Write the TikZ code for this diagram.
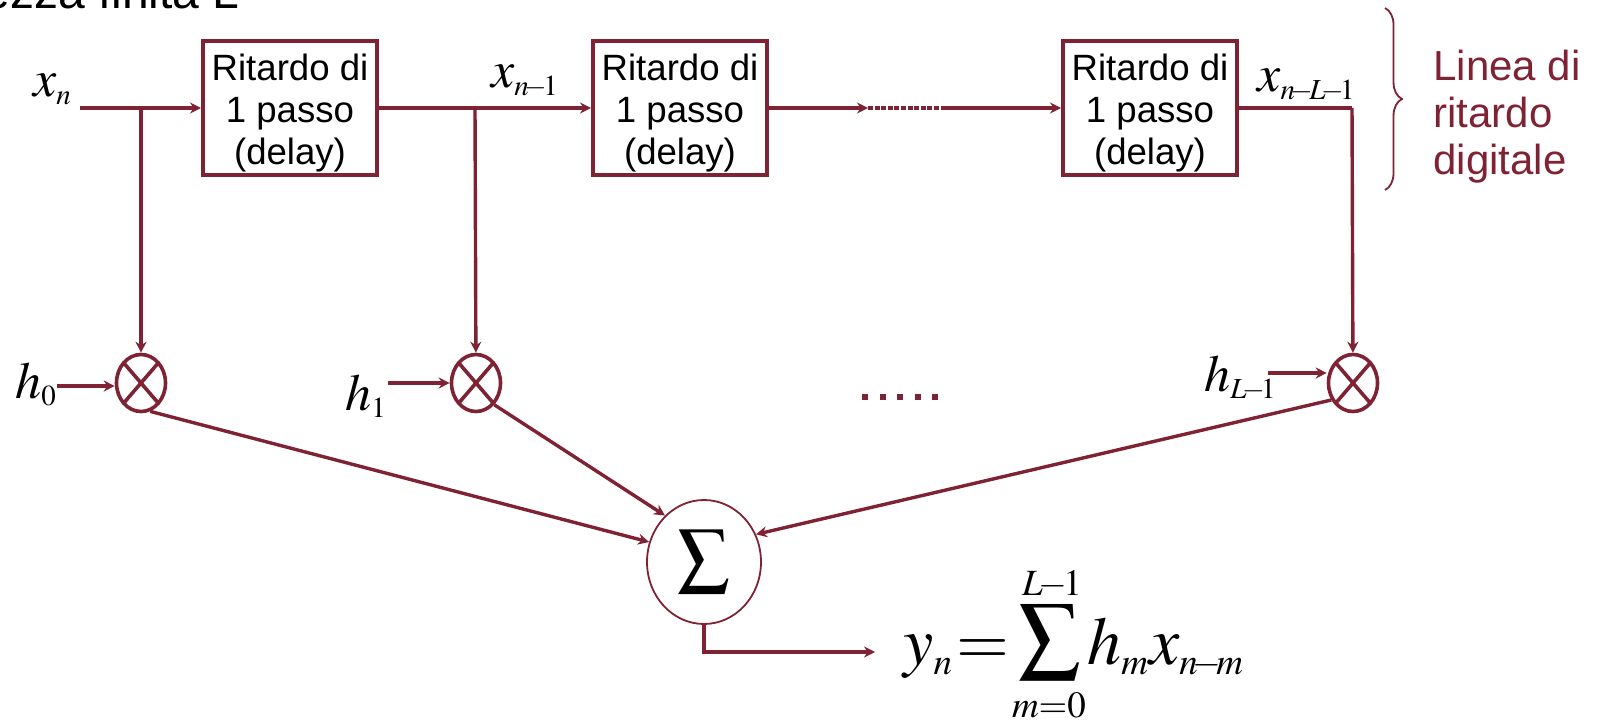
\documentclass[tikz,border=0pt]{standalone}
\usepackage{mathptmx}
\usepackage[no-math]{fontspec}
\setmainfont{Liberation Sans}
\usepackage{amsmath}
\usetikzlibrary{arrows.meta,shapes.geometric,decorations.pathreplacing}
\definecolor{wire}{HTML}{7F2233}
\DeclareMathSizes{26}{26}{14.5}{11}
\DeclareMathSizes{34}{34}{18.5}{13}
\newcommand{\mns}{\mkern-2.5mu-\mkern-2.5mu}
\newcommand{\delaytext}{\rule{0pt}{18.5pt}Ritardo di\\1 passo\\(delay)}
\begin{document}
\begin{tikzpicture}[
    x=0.5pt, y=-0.5pt,
    >={Stealth[length=5.5pt,width=5.5pt]},
    delaybox/.style={draw=wire, line width=2pt, minimum width=87pt, minimum height=67pt, inner sep=0pt, align=center, font=\fontsize{18.3}{21}\selectfont},
    mult/.style={ellipse, draw=wire, line width=1.8pt, minimum width=24.5pt, minimum height=28.5pt, inner sep=0pt,
        path picture={\draw[wire, line width=1.8pt] (path picture bounding box.north west) -- (path picture bounding box.south east)
            (path picture bounding box.north east) -- (path picture bounding box.south west);}},
    wireline/.style={wire, line width=1.7pt},
    wirearrow/.style={->, wire, line width=1.7pt},
    symb/.style={inner sep=0pt, anchor=base west, font=\fontsize{26}{30}\selectfont},
    bigsymb/.style={inner sep=0pt, anchor=base west, font=\fontsize{34}{38}\selectfont},
    limit/.style={inner sep=0pt, anchor=base, font=\fontsize{18.5}{20}\selectfont}
]
    \clip (0,0) rectangle (1599,721);

    % title, cut off by the page
    \node[inner sep=0pt, anchor=base east, font=\fontsize{24}{28}\selectfont] (title) at (240,9) {ezza finita L};

    % delay line
    \node[delaybox] (delay1) at (290,108) {\delaytext};
    \node[delaybox] (delay2) at (680,108) {\delaytext};
    \node[delaybox] (delay3) at (1150,108) {\delaytext};

    \node[symb] (xn) at (33,97) {$x_n$};
    \node[symb] (xn1) at (491,88) {$x_{n\mns1}$};
    \node[symb] (xnL) at (1257,92) {$x_{n\mns L\mns1}$};

    \coordinate (xin) at (80,108);
    \coordinate (tap0) at (141,108);
    \coordinate (tap1) at (475,108);
    \coordinate (tap2) at (1352,108);
    \coordinate (dotsL) at (868,108);
    \coordinate (dotsR) at (945,108);

    \draw[wirearrow] (xin) -- (delay1);
    \draw[wirearrow] (delay1) -- (delay2);
    \draw[wirearrow] (delay2) -- (dotsL);
    \draw[wireline, dash pattern=on 2.5pt off 0.8pt] (dotsL) -- (dotsR);
    \draw[wirearrow] (dotsR) -- (delay3);
    \draw[wireline] (delay3) -- (tap2);

    % brace
    \draw[wire, line width=0.9pt, decorate, decoration={brace, amplitude=8.5pt}] (1385,8) -- (1385,190) coordinate (braceEnd);
    \node[inner sep=0pt, anchor=north west, align=left, text=wire, font=\fontsize{21}{23.5}\selectfont] (linea) at (1433,50) {Linea di\\ritardo\\digitale};

    % multipliers
    \node[mult] (m0) at (141,383) {};
    \node[mult] (m1) at (476,383) {};
    \node[mult] (m2) at (1353,383) {};

    \draw[wirearrow] (tap0) -- (m0);
    \draw[wirearrow] (tap1) -- (m1);
    \draw[wirearrow] (tap2) -- (m2);

    \node[symb] (h0) at (15,398) {$h_0$};
    \node[symb] (h1) at (345,410) {$h_1$};
    \node[symb] (hL) at (1204,391) {$h_{L\mns1}$};

    \coordinate (h0in) at (57,386);
    \coordinate (h1in) at (388,383);
    \coordinate (hLin) at (1268,373);
    \draw[wirearrow] (h0in) -- (h0in -| m0.west);
    \draw[wirearrow] (h1in) -- (h1in -| m1.west);
    \draw[wirearrow] (hLin) -- (hLin -| m2.west);

    \foreach \k in {0,...,4}
        \fill[wire] (862+17.5*\k,394) rectangle (868+17.5*\k,400);

    % adder
    \node[ellipse, draw=wire, line width=0.9pt, minimum width=57pt, minimum height=62pt, inner sep=0pt, font=\fontsize{37}{42}\selectfont] (adder) at (704,562) {$\textstyle\sum$};

    \draw[wirearrow] (m0.-72) -- (adder.160);
    \draw[wirearrow] (m1.-50) -- (adder.130);
    \draw[wirearrow] (m2.218) -- (adder.28);

    \coordinate (outEnd) at (875,652);
    \draw[wirearrow] (adder.south) |- (outEnd);

    % output formula
    \node[bigsymb] (eqnL) at (903,664) {$y_n\mkern-3mu=$};
    \node[inner sep=0pt, font=\fontsize{30.5}{34}\selectfont] (bigsum) at (1050,642) {$\displaystyle\sum$};
    \node[limit] (sumTop) at (1052,595) {$L\mkern-2mu{-}\mkern-2mu1$};
    \node[limit] (sumBot) at (1049,717) {$m{=}0$};
    \node[bigsymb] (eqnR) at (1087,664) {$h_m x_{n\mns m}$};
\end{tikzpicture}
\end{document}
